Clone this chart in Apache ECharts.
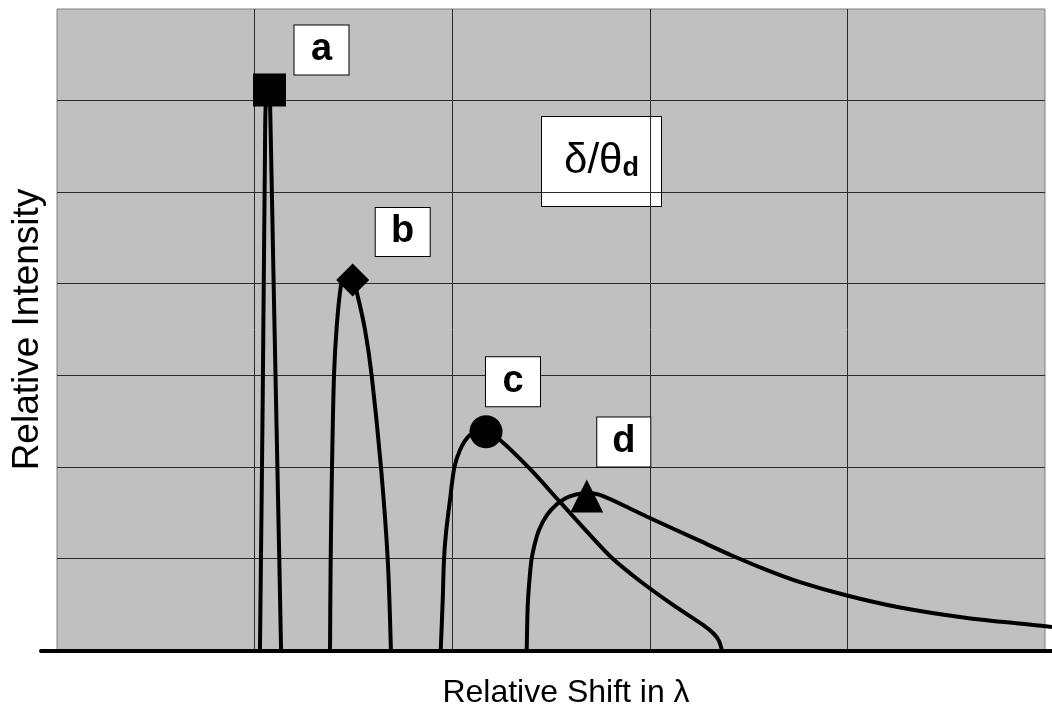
<!DOCTYPE html>
<html>
<head>
<meta charset="utf-8">
<script src="https://cdn.jsdelivr.net/npm/echarts@6/dist/echarts.min.js"></script>
<style>
  html, body { margin: 0; padding: 0; background: #ffffff; }
  #chart { width: 1052px; height: 714px; }
</style>
</head>
<body>
<div id="chart"></div>
<script>
// Spectral line profiles: relative intensity vs. relative shift, for four cases a–d.
const curveNames = ['a', 'b', 'c', 'd'];

const curveA = [
  [1.027, 0], [1.041, 2.74], [1.0526, 5.46], [1.0577, 6.01], [1.0754, 6.118],
  [1.078, 6.01], [1.098, 3.83], [1.124, 1.10], [1.134, 0]
];
const curveB = [
  [1.3816, 0], [1.385, 1.003], [1.3917, 2.0], [1.4018, 3.0], [1.4155, 3.537],
  [1.437, 3.99], [1.447, 4.02], [1.4965, 4.046], [1.518, 3.904], [1.559, 3.50],
  [1.5926, 3.002], [1.6397, 1.999], [1.6736, 1.003], [1.690, 0]
];
const curveC = [
  [1.9418, 0], [1.952, 0.556], [1.9585, 1.0], [1.9686, 1.287], [1.9889, 1.647],
  [2.0106, 1.999], [2.0395, 2.192], [2.0815, 2.337], [2.125, 2.385], [2.171, 2.391],
  [2.2419, 2.301], [2.3937, 1.985], [2.5455, 1.625], [2.6974, 1.265], [2.8087, 1.014],
  [2.9504, 0.763], [3.1174, 0.502], [3.2692, 0.284], [3.3249, 0.185], [3.3502, 0.109],
  [3.3654, 0]
];
const curveD = [
  [2.377, 0], [2.380, 0.338], [2.3836, 0.556], [2.391, 0.774], [2.401, 0.992],
  [2.4165, 1.156], [2.4393, 1.320], [2.480, 1.483], [2.5253, 1.592], [2.576, 1.668],
  [2.6265, 1.707], [2.681, 1.723], [2.748, 1.701], [2.915, 1.538], [3.0, 1.450],
  [3.2541, 1.200], [3.4211, 1.036], [3.5931, 0.883], [3.7601, 0.752], [3.998, 0.605],
  [4.2662, 0.474], [4.6053, 0.360], [4.9393, 0.284], [5.0354, 0.262]
];
const curves = [curveA, curveB, curveC, curveD];

const xTitle = 'Relative Shift in λ';
const yTitle = 'Relative Intensity';

const FONT = '"Liberation Sans", Arial, Helvetica, sans-serif';

// Peak marker per curve and where its tag box sits relative to the marker
const peakSymbols = ['rect', 'diamond', 'circle', 'triangle'];
const peakSymbolShift = [[0, 0], [0, 0], [0, 0], [0, 3]];
const tagOffsets = [[52, -40], [50, -48], [27, -50], [37, -51]];
const tagSizes = [[54, 49], [54, 48], [54, 49], [53, 49]];

function peakOf(curve) {
  return curve.reduce((best, p) => (p[1] > best[1] ? p : best), curve[0]);
}

// The plotting grid (index 1) is a little wider than the shaded frame (index 0)
// so the baseline and the long tail of d can run past the frame edges.
// Both share the same scale: 197.6 px per unit on x, 0..7 on y.
const UNIT_PX = 197.6;
const FRAME = { left: 57, right: 7, top: 9, bottom: 63 };
const WIDE = { left: 41, right: 0 };
const wideMin = -(FRAME.left - WIDE.left) / UNIT_PX;
const wideMax = 5 + (FRAME.right - WIDE.right) / UNIT_PX;

const lineSeries = curves.map((c, i) => ({
  name: curveNames[i],
  type: 'line',
  xAxisIndex: 1,
  yAxisIndex: 1,
  data: c,
  smooth: 0.3,
  symbol: 'none',
  lineStyle: { color: '#000', width: 4 },
  z: 3
}));

const peakData = curves.map((c, i) => ({
  value: peakOf(c),
  symbol: peakSymbols[i],
  symbolSize: 33,
  symbolOffset: peakSymbolShift[i],
  label: {
    show: true,
    formatter: curveNames[i],
    position: 'inside',
    offset: [tagOffsets[i][0] - peakSymbolShift[i][0], tagOffsets[i][1] - peakSymbolShift[i][1]],
    width: tagSizes[i][0],
    height: tagSizes[i][1],
    lineHeight: tagSizes[i][1],
    align: 'center',
    verticalAlign: 'middle',
    backgroundColor: '#ffffff',
    borderColor: '#000000',
    borderWidth: 1,
    padding: 0,
    color: '#000',
    fontSize: 38,
    fontWeight: 'bold',
    fontFamily: FONT
  }
}));

const chart = echarts.init(document.getElementById('chart'), null, { renderer: 'canvas' });

chart.setOption({
  animation: false,
  backgroundColor: '#ffffff',
  grid: [{
    left: FRAME.left, right: FRAME.right, top: FRAME.top, bottom: FRAME.bottom,
    show: true,
    backgroundColor: '#c0c0c0',
    borderColor: '#808080',
    borderWidth: 1
  }, {
    left: WIDE.left, right: WIDE.right, top: FRAME.top, bottom: FRAME.bottom,
    show: false
  }],
  xAxis: [{
    type: 'value',
    gridIndex: 0,
    min: 0, max: 5, interval: 1,
    name: xTitle,
    nameLocation: 'middle',
    nameGap: 27,
    nameTextStyle: { fontSize: 32, color: '#000', fontFamily: FONT, padding: [0, 0, 0, 30] },
    axisLine: { show: false },
    axisTick: { show: false },
    axisLabel: { show: false },
    splitLine: { show: true, showMinLine: false, showMaxLine: false, lineStyle: { color: '#2a2a2a', width: 1 } }
  }, {
    type: 'value',
    gridIndex: 1,
    min: wideMin, max: wideMax,
    axisLine: { show: true, lineStyle: { color: '#000', width: 4 } },
    axisTick: { show: false },
    axisLabel: { show: false },
    splitLine: { show: false }
  }],
  yAxis: [{
    type: 'value',
    gridIndex: 0,
    min: 0, max: 7, interval: 1,
    name: yTitle,
    nameLocation: 'middle',
    nameGap: 11,
    nameTextStyle: { fontSize: 37, color: '#000', fontFamily: FONT },
    axisLine: { show: false },
    axisTick: { show: false },
    axisLabel: { show: false },
    splitLine: { show: true, showMinLine: false, showMaxLine: false, lineStyle: { color: '#2a2a2a', width: 1 } }
  }, {
    type: 'value',
    gridIndex: 1,
    min: 0, max: 7,
    show: false
  }],
  graphic: [{
    type: 'group',
    left: 541,
    top: 116,
    children: [{
      type: 'rect',
      shape: { x: 0, y: 0, width: 120, height: 90 },
      style: { fill: '#ffffff', stroke: '#000000', lineWidth: 1 }
    }, {
      type: 'text',
      x: 60, y: 45,
      style: {
        text: '{m|δ/θ}{s|d}',
        align: 'center',
        verticalAlign: 'middle',
        rich: {
          m: { fontSize: 42, lineHeight: 42, fontFamily: FONT, fill: '#000', verticalAlign: 'middle' },
          s: { fontSize: 27, lineHeight: 18, fontWeight: 'bold', fontFamily: FONT, fill: '#000', verticalAlign: 'bottom' }
        }
      }
    }]
  }],
  series: lineSeries.concat([{
    name: 'peaks',
    type: 'scatter',
    xAxisIndex: 1,
    yAxisIndex: 1,
    data: peakData,
    itemStyle: { color: '#000', opacity: 1 },
    z: 5
  }])
});
</script>
</body>
</html>
